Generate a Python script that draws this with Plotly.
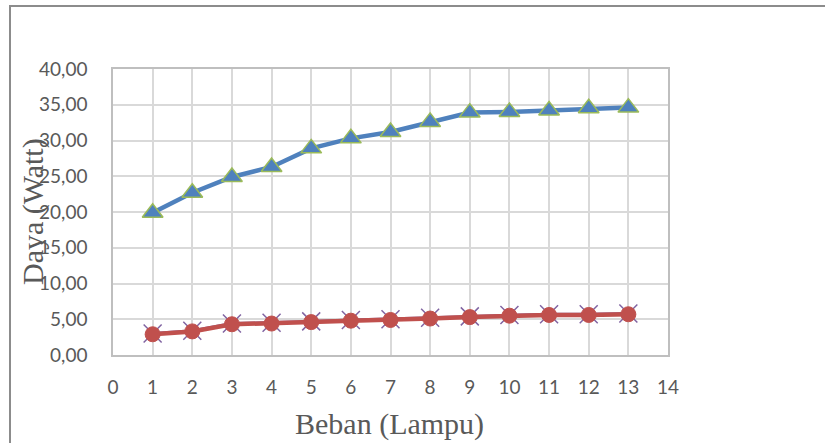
import plotly.graph_objects as go

beban = [1, 2, 3, 4, 5, 6, 7, 8, 9, 10, 11, 12, 13]
daya_a = [19.9, 22.7, 24.9, 26.3, 28.9, 30.3, 31.2, 32.6, 33.9, 34.0, 34.2, 34.5, 34.6]
daya_b = [3.0, 3.4, 4.4, 4.5, 4.7, 4.9, 5.0, 5.2, 5.4, 5.6, 5.7, 5.7, 5.8]
daya_c = [2.9, 3.3, 4.3, 4.4, 4.6, 4.8, 4.9, 5.1, 5.3, 5.5, 5.6, 5.6, 5.7]
y_ticks = [0, 5, 10, 15, 20, 25, 30, 35, 40]
y_tick_text = ["0,00", "5,00", "10,00", "15,00", "20,00", "25,00", "30,00", "35,00", "40,00"]
x_ticks = list(range(0, 15))

W, H = 825, 443
L, R, T, B = 113, 668, 69, 355

fig = go.Figure()
fig.add_trace(go.Scatter(
    x=beban, y=daya_a, mode="lines+markers",
    line=dict(color="#4F81BD", width=4.5),
    marker=dict(symbol="triangle-up", size=18, color="#4F81BD",
                line=dict(color="#9BBB59", width=1.5)),
    showlegend=False))
fig.add_trace(go.Scatter(
    x=beban, y=daya_b, mode="lines+markers",
    line=dict(color="#8064A2", width=3),
    marker=dict(symbol="x-thin", size=18, color="#8064A2",
                line=dict(color="#8064A2", width=1.5)),
    showlegend=False))
fig.add_trace(go.Scatter(
    x=beban, y=daya_c, mode="lines+markers",
    line=dict(color="#C0504D", width=4.5),
    marker=dict(symbol="circle", size=15, color="#C0504D",
                line=dict(color="#C0504D", width=1)),
    showlegend=False))

tickfont = dict(family="Lato, Open Sans, sans-serif", size=19, color="#595959")
fig.update_xaxes(range=[0, 14], tickvals=x_ticks, ticktext=[str(v) for v in x_ticks],
                 showgrid=True, gridcolor="#D9D9D9", gridwidth=1.5,
                 showline=True, linecolor="#BFBFBF", linewidth=1.5, mirror=True,
                 zeroline=False, tickfont=tickfont, ticks="", ticklabelstandoff=14)
fig.update_yaxes(range=[0, 40], tickvals=y_ticks, ticktext=y_tick_text,
                 showgrid=True, gridcolor="#D9D9D9", gridwidth=1.5,
                 showline=True, linecolor="#BFBFBF", linewidth=1.5, mirror=True,
                 zeroline=False, tickfont=tickfont, ticks="", ticklabelstandoff=20)

pw, ph = R - L, B - T
def px_x(p):
    return (p - L) / pw
def px_y(p):
    return (B - p) / ph

fig.update_layout(
    width=W, height=H,
    margin=dict(l=L, r=W - R, t=T, b=H - B),
    plot_bgcolor="white", paper_bgcolor="white",
    shapes=[
        dict(type="line", xref="paper", yref="paper",
             x0=px_x(10), x1=px_x(10), y0=px_y(6), y1=px_y(445),
             line=dict(color="#8C8C8C", width=2)),
        dict(type="line", xref="paper", yref="paper",
             x0=px_x(9), x1=px_x(830), y0=px_y(6), y1=px_y(6),
             line=dict(color="#8C8C8C", width=2)),
    ],
    annotations=[
        dict(text="Beban (Lampu)", xref="paper", yref="paper",
             x=px_x(389), y=px_y(424), showarrow=False,
             xanchor="center", yanchor="middle",
             font=dict(family="Liberation Serif, Times New Roman, serif", size=30, color="#595959")),
        dict(text="Daya (Watt)", xref="paper", yref="paper",
             x=px_x(33), y=px_y(212), showarrow=False, textangle=-90,
             xanchor="center", yanchor="middle",
             font=dict(family="Liberation Serif, Times New Roman, serif", size=30, color="#595959")),
    ],
)

fig.write_html("out.html")
